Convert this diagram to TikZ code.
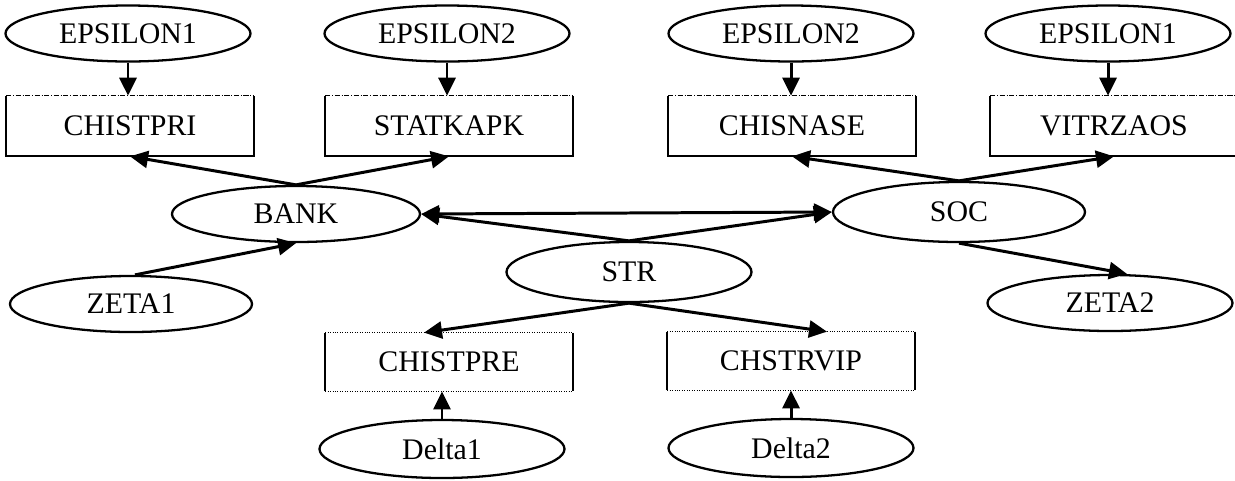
\documentclass[tikz,border=0pt]{standalone}
\usepackage{fontspec}
\setmainfont{Liberation Serif}
\usetikzlibrary{shapes.geometric,arrows.meta,positioning}

\begin{document}
\begin{tikzpicture}[node distance=1.5cm,
  font=\fontsize{17}{20}\selectfont,
  oval/.style={draw, ellipse, line width=1.3pt, minimum width=4.9cm, minimum height=1.12cm, inner sep=0pt},
  varbox/.style={rectangle, minimum width=4.94cm, minimum height=1.2cm},
  link/.style={line width=1.7pt, -{Triangle[length=0.36cm,width=0.34cm]}}]
\useasboundingbox (0,0) rectangle (24.7,-9.6);

% Epsilon row
\node[oval] (epsA) at (2.56,-0.67) {EPSILON1};
\node[oval, right of=epsA, xshift=4.88cm] (epsB) {EPSILON2};
\node[oval, right of=epsB, xshift=5.38cm] (epsC) {EPSILON2};
\node[oval, right of=epsC, xshift=4.84cm] (epsD) {EPSILON1};

% Upper boxes
\node[varbox, below of=epsA, xshift=0.04cm, yshift=-0.35cm] (chistpri) {CHISTPRI};
\node[varbox, below of=epsB, xshift=0.04cm, yshift=-0.35cm] (statkapk) {STATKAPK};
\node[varbox, below of=epsC, xshift=0.02cm, yshift=-0.35cm] (chisnase) {CHISNASE};
\node[varbox, below of=epsD, xshift=0.12cm, yshift=-0.35cm] (vitrzaos) {VITRZAOS};

% Sectors
\node[oval, minimum width=4.96cm, below of=chistpri, xshift=3.32cm, yshift=-0.26cm] (bank) {BANK};
\node[oval, minimum width=5.04cm, minimum height=1.2cm, below of=chisnase, xshift=3.34cm, yshift=-0.22cm] (soc) {SOC};
\node[oval, minimum height=1.2cm, below of=bank, xshift=6.66cm, yshift=0.34cm] (str) {STR};

% Zeta
\node[oval, minimum width=4.84cm, below of=bank, xshift=-3.30cm, yshift=-0.30cm] (zeta1) {ZETA1};
\node[oval, below of=soc, xshift=3.02cm, yshift=-0.32cm] (zeta2) {ZETA2};

% Lower boxes
\node[varbox, minimum height=1.16cm, below of=str, xshift=-3.60cm, yshift=-0.30cm] (chistpre) {CHISTPRE};
\node[varbox, minimum height=1.16cm, below of=str, xshift=3.24cm, yshift=-0.28cm] (chstrvip) {CHSTRVIP};

% Delta
\node[oval, minimum height=1.16cm, below of=chistpre, xshift=-0.14cm, yshift=-0.24cm] (delta1) {Delta1};
\node[oval, minimum height=1.16cm, below of=chstrvip, yshift=-0.24cm] (delta2) {Delta2};

% Box outlines
\foreach \b in {chistpri,statkapk,chisnase,vitrzaos} {
  \draw[line width=1pt] (\b.north west) -- (\b.south west) -- (\b.south east) -- (\b.north east);
  \draw[densely dash dot, thin] (\b.north west) -- (\b.north east);
}
\foreach \b in {chistpre,chstrvip} {
  \draw[line width=1pt] (\b.north west) -- (\b.south west) (\b.north east) -- (\b.south east);
  \draw[densely dotted, thin] (\b.north west) -- (\b.north east) (\b.south west) -- (\b.south east);
}

% Arrows
\draw[link] (epsA) -- (epsA |- chistpri.north);
\draw[link] (epsB) -- (epsB |- statkapk.north);
\draw[link] (epsC) -- (epsC |- chisnase.north);
\draw[link] (epsD) -- (epsD |- vitrzaos.north);
\draw[link] (bank.north) -- (chistpri.south);
\draw[link] (bank.north) -- (statkapk.south);
\draw[link] (soc.north) -- (chisnase.south);
\draw[link] (soc.north) -- (vitrzaos.south);
\draw[link] (soc.south) -- ([xshift=0.34cm]zeta2.north);
\draw[link] ([xshift=0.08cm]zeta1.north) -- (bank.south);
\draw[link, {Triangle[length=0.36cm,width=0.34cm]}-{Triangle[length=0.36cm,width=0.34cm]}] (bank.east) -- (soc.west);
\draw[link] (str.north) -- (bank.east);
\draw[link] (str.north) -- (soc.west);
\draw[link] (str.south) -- ([xshift=-0.5cm]chistpre.north);
\draw[link] (str.south) -- ([xshift=0.72cm]chstrvip.north);
\draw[link] (delta1.north) -- (delta1.north |- chistpre.south);
\draw[link] (delta2) -- (chstrvip);
\end{tikzpicture}
\end{document}
